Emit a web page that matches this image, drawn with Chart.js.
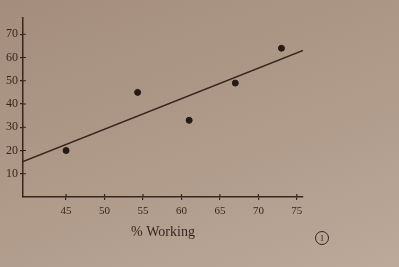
<!DOCTYPE html>
<html>
<head>
<meta charset="utf-8">
<script src="https://cdn.jsdelivr.net/npm/chart.js@4/dist/chart.umd.min.js"></script>
<style>
  html, body { margin: 0; padding: 0; }
  body {
    width: 399px; height: 267px; overflow: hidden; position: relative;
    background: linear-gradient(160deg, #a48d7d 0%, #ae9888 45%, #bba999 100%);
  }
  #wrap { position: absolute; left: 0; top: 0; width: 399px; height: 267px; }
  #mark {
    position: absolute; left: 315px; top: 231px; width: 12px; height: 12px;
    border: 1.3px solid #35271f; border-radius: 50%;
    font: 9px "Liberation Serif", serif; color: #35271f;
    text-align: center; line-height: 12px;
  }
</style>
</head>
<body>
<div id="wrap"><canvas id="chart" width="399" height="267"></canvas></div>
<div id="mark">1</div>
<script>
// values
const pctWorking = [45, 54.3, 61, 67, 73];
const yValues = [20, 45, 33, 49, 64];
const fitX = [39.4, 75.8];
const fitY = [15.3, 63];
const xTicks = [45, 50, 55, 60, 65, 70, 75];
const yTicks = [10, 20, 30, 40, 50, 60, 70];

const ink = '#35271f';

// inner half of the crossing tick marks
const crossTicks = {
    id: 'crossTicks',
    afterDraw(chart) {
        const ctx = chart.ctx;
        const xs = chart.scales.x, ys = chart.scales.y;
        ctx.save();
        ctx.strokeStyle = ink;
        ctx.lineWidth = 1.2;
        ctx.beginPath();
        xTicks.forEach(v => {
            const px = xs.getPixelForValue(v);
            ctx.moveTo(px, xs.top);
            ctx.lineTo(px, xs.top - 3);
        });
        yTicks.forEach(v => {
            const py = ys.getPixelForValue(v);
            ctx.moveTo(ys.right, py);
            ctx.lineTo(ys.right + 3, py);
        });
        ctx.stroke();
        ctx.restore();
    }
};

new Chart(document.getElementById('chart'), {
    type: 'scatter',
    data: {
        datasets: [{
            data: pctWorking.map((x, i) => ({ x, y: yValues[i] })),
            backgroundColor: '#261a14',
            borderColor: '#261a14',
            pointRadius: 3,
            order: 1
        }, {
            type: 'line',
            data: fitX.map((x, i) => ({ x, y: fitY[i] })),
            borderColor: ink,
            borderWidth: 1.5,
            pointRadius: 0,
            fill: false,
            order: 2
        }]
    },
    options: {
        responsive: false,
        animation: false,
        layout: { padding: { left: 0, right: 96, top: 18, bottom: 0 } },
        plugins: { legend: { display: false }, tooltip: { enabled: false } },
        scales: {
            x: {
                type: 'linear',
                min: 39.4,
                max: 75.8,
                afterBuildTicks: s => { s.ticks = xTicks.map(v => ({ value: v })); },
                afterFit: s => { s.height = 70; },
                ticks: { color: ink, font: { family: 'Liberation Serif', size: 11 }, padding: 5, maxRotation: 0 },
                grid: { drawOnChartArea: false, tickLength: 3, color: ink, lineWidth: 1.2 },
                border: { color: ink, width: 1.5 },
                title: {
                    display: true,
                    text: '% Working',
                    color: ink,
                    font: { family: 'Liberation Serif', size: 14 },
                    padding: { top: 0, bottom: 26 }
                }
            },
            y: {
                min: 0,
                max: 77,
                afterBuildTicks: s => { s.ticks = yTicks.map(v => ({ value: v })); },
                afterFit: s => { s.width = 23; },
                ticks: { color: ink, font: { family: 'Liberation Serif', size: 12 }, padding: 2 },
                grid: { drawOnChartArea: false, tickLength: 3, color: ink, lineWidth: 1.2 },
                border: { color: ink, width: 1.5 }
            }
        }
    },
    plugins: [crossTicks]
});
</script>
</body>
</html>
